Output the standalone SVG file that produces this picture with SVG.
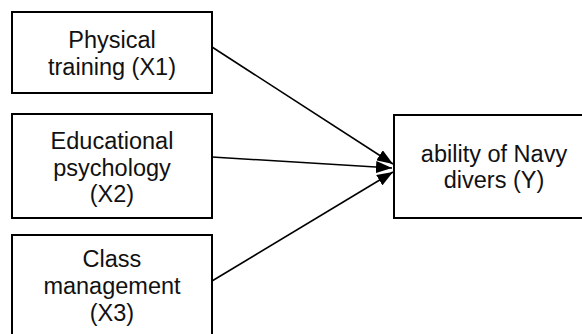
<svg xmlns="http://www.w3.org/2000/svg" width="582" height="334" viewBox="0 0 582 334">
<style>
.box{fill:#fff;stroke:#000;stroke-width:2}
.t{font-family:"Liberation Sans",Arial,sans-serif;font-size:23.5px;fill:#111;text-anchor:middle}
.c{stroke:#000;stroke-width:1.6;fill:none}
</style>
<defs>
<marker id="ah" markerUnits="userSpaceOnUse" markerWidth="16" markerHeight="12" viewBox="0 0 16 12" refX="16" refY="6" orient="auto">
<path d="M0,0 L16,6 L0,12 Z" fill="#000"/>
</marker>
</defs>
<rect width="582" height="334" fill="#fff"/>
<g id="connectors">
<line class="c" x1="212" y1="47" x2="393" y2="164" marker-end="url(#ah)"/>
<line class="c" x1="212" y1="157" x2="392" y2="168" marker-end="url(#ah)"/>
<line class="c" x1="212" y1="281" x2="393" y2="172" marker-end="url(#ah)"/>
</g>
<g id="x1">
<rect class="box" x="12" y="12" width="200" height="81"/>
<text class="t" x="112" y="47.5">Physical</text>
<text class="t" x="112" y="75">training (X1)</text>
</g>
<g id="x2">
<rect class="box" x="12" y="114" width="200" height="104"/>
<text class="t" x="112" y="148.5">Educational</text>
<text class="t" x="112" y="175.5">psychology</text>
<text class="t" x="112" y="202">(X2)</text>
</g>
<g id="x3">
<rect class="box" x="12" y="235" width="200" height="110"/>
<text class="t" x="112" y="267">Class</text>
<text class="t" x="112" y="294">management</text>
<text class="t" x="112" y="320.5">(X3)</text>
</g>
<g id="y">
<rect class="box" x="394" y="115" width="200" height="103"/>
<text class="t" x="494" y="161.5">ability of Navy</text>
<text class="t" x="494" y="188">divers (Y)</text>
</g>
</svg>
